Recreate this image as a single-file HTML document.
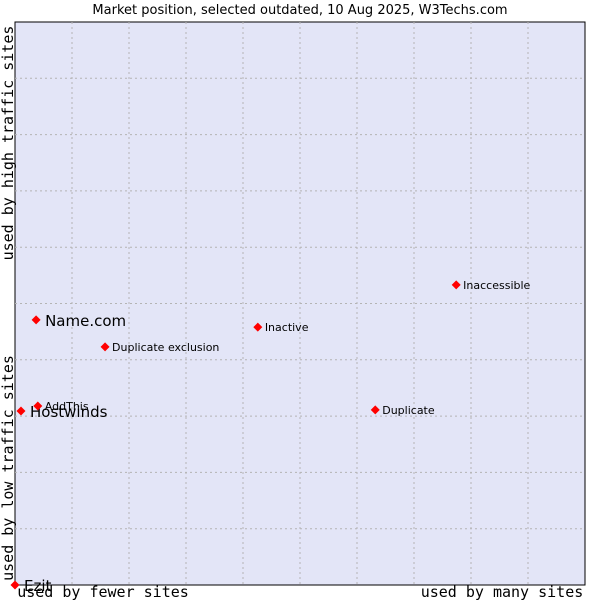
<!DOCTYPE html>
<html><head><meta charset="utf-8"><style>
body{margin:0;background:#fff;}
svg{display:block;font-family:"DejaVu Sans","Liberation Sans",sans-serif;}
</style></head><body>
<svg id="chart" width="600" height="600">
<text x="300" y="14" text-anchor="middle" font-size="13" fill="#000">Market position, selected outdated, 10 Aug 2025, W3Techs.com</text>
<rect x="15" y="22" width="570" height="563" fill="#e3e5f7" stroke="#000" stroke-width="1"/>
<g id="grid"></g>
<g id="points"></g>
<text x="103" y="597" text-anchor="middle" font-family="'DejaVu Sans Mono','Liberation Mono',monospace" font-size="15">used by fewer sites</text>
<text x="502" y="597" text-anchor="middle" font-family="'DejaVu Sans Mono','Liberation Mono',monospace" font-size="15">used by many sites</text>
<text transform="translate(13,468) rotate(-90)" text-anchor="middle" font-family="'DejaVu Sans Mono','Liberation Mono',monospace" font-size="15">used by low traffic sites</text>
<text transform="translate(13,143) rotate(-90)" text-anchor="middle" font-family="'DejaVu Sans Mono','Liberation Mono',monospace" font-size="15">used by high traffic sites</text>
</svg>
<script>
const names=["Ezit","Hostwinds","AddThis","Name.com","Duplicate exclusion","Inactive","Duplicate","Inaccessible"];
const xValues=[0,1.05,4.0,3.7,15.8,42.6,63.2,77.4];
const yValues=[0,30.9,31.8,47.1,42.3,45.8,31.1,53.3];
const bigLabels=[true,true,false,true,false,false,false,false];
const L=15,T=22,W=570,H=563;
const sx=v=>L+v/100*W, sy=v=>T+H-v/100*H;
const ns="http://www.w3.org/2000/svg";
const grid=document.getElementById('grid');
for(let i=1;i<10;i++){
  const v=document.createElementNS(ns,'line');
  
  
  v.setAttribute('x1',sx(i*10));v.setAttribute('x2',sx(i*10));v.setAttribute('y1',T);v.setAttribute('y2',T+H);
  v.setAttribute('stroke','#b4b4b4');v.setAttribute('stroke-dasharray','2,3');grid.appendChild(v);
  const h=document.createElementNS(ns,'line');
  
  
  h.setAttribute('y1',sy(i*10));h.setAttribute('y2',sy(i*10));h.setAttribute('x1',L);h.setAttribute('x2',L+W);
  h.setAttribute('stroke','#b4b4b4');h.setAttribute('stroke-dasharray','2,3');grid.appendChild(h);
}
const pts=document.getElementById('points');
names.forEach((n,i)=>{
  const x=sx(xValues[i]),y=sy(yValues[i]);
  const d=document.createElementNS(ns,'path');
  
  
  d.setAttribute('d',`M${x} ${y-4.5}L${x+4.5} ${y}L${x} ${y+4.5}L${x-4.5} ${y}Z`);
  d.setAttribute('fill','#f00');pts.appendChild(d);
  const t=document.createElementNS(ns,'text');
  
  
  t.setAttribute('x',x+(bigLabels[i]?9:7));t.setAttribute('y',y+(bigLabels[i]?6:4));
  t.setAttribute('font-size',bigLabels[i]?'15':'11');t.setAttribute('fill','#000');
  t.textContent=n;pts.appendChild(t);
});
</script>
</body></html>
